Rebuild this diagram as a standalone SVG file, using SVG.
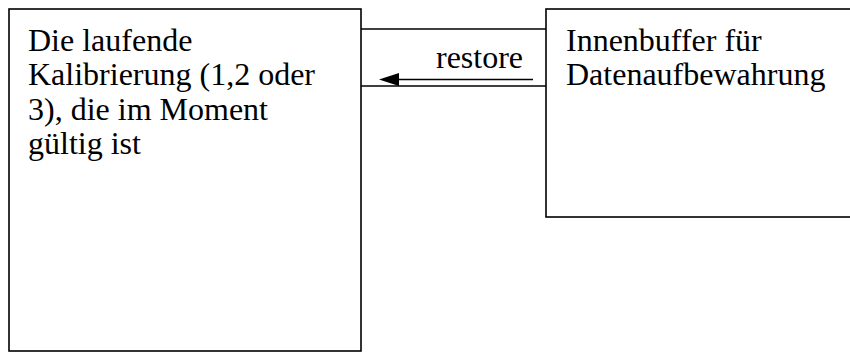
<svg xmlns="http://www.w3.org/2000/svg" width="850" height="353" viewBox="0 0 850 353">
<style>
.box{fill:#fff;stroke:#000;stroke-width:1.6}
.ln{stroke:#000;stroke-width:1.6;fill:none}
.t{font-size:32px;fill:#000}
</style>
<rect width="850" height="353" fill="#fff"/>
<g font-family="Liberation Serif, Times New Roman, Tinos, serif">
<g id="connectors">
<line class="ln" x1="361" y1="29" x2="546" y2="29"/>
<line class="ln" x1="361" y1="86" x2="546" y2="86"/>
<line class="ln" x1="533" y1="79.5" x2="399" y2="79.5"/>
<path d="M379,79.5 L399,73 L399,86 Z" fill="#000"/>
<text class="t" x="436" y="68">restore</text>
</g>
<g id="node-left">
<rect class="box" x="9" y="9" width="352" height="342"/>
<text class="t" x="28" y="50.5">Die laufende</text>
<text class="t" x="28" y="85">Kalibrierung (1,2 oder</text>
<text class="t" x="28" y="119.5">3), die im Moment</text>
<text class="t" x="28" y="154">gültig ist</text>
</g>
<g id="node-right">
<rect class="box" x="546" y="9" width="310" height="208"/>
<text class="t" x="566" y="50.5">Innenbuffer für</text>
<text class="t" x="566" y="85">Datenaufbewahrung</text>
</g>
</g>
</svg>
